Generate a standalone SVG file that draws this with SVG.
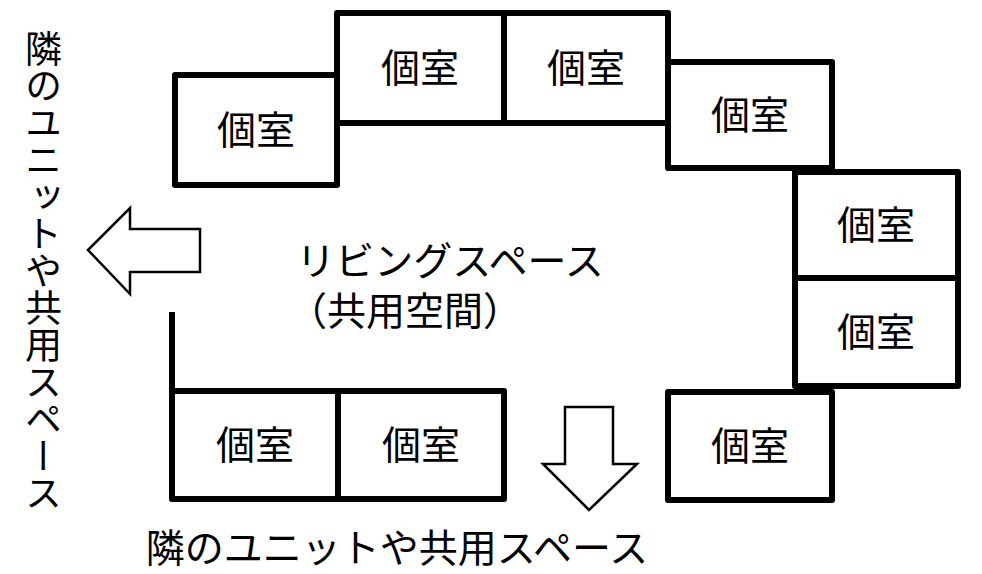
<svg xmlns="http://www.w3.org/2000/svg" width="982" height="574" viewBox="0 0 982 574">
<style>
.r{fill:#fff;stroke:#000;stroke-width:6;stroke-linejoin:round}
.t{font-family:"Liberation Sans","Noto Sans CJK JP",sans-serif;font-size:39px;fill:#000}
.a{fill:#fff;stroke:#000;stroke-width:2.5}
</style>
<rect width="982" height="574" fill="#fff"/>
<g id="rooms">
<g id="r1"><rect class="r" x="175" y="75" width="162" height="110"/><text class="t" x="256" y="144" text-anchor="middle">個室</text></g>
<g id="r2"><rect class="r" x="337" y="13" width="167" height="110"/><text class="t" x="420" y="82" text-anchor="middle">個室</text></g>
<g id="r3"><rect class="r" x="504" y="13" width="164" height="110"/><text class="t" x="586" y="82" text-anchor="middle">個室</text></g>
<g id="r4"><rect class="r" x="668" y="62" width="164" height="106"/><text class="t" x="750" y="129" text-anchor="middle">個室</text></g>
<g id="r5"><rect class="r" x="795" y="172" width="163" height="106"/><text class="t" x="876" y="239" text-anchor="middle">個室</text></g>
<g id="r6"><rect class="r" x="795" y="278" width="163" height="108"/><text class="t" x="876" y="346" text-anchor="middle">個室</text></g>
<g id="r7"><rect class="r" x="668" y="392" width="164" height="108"/><text class="t" x="750" y="460" text-anchor="middle">個室</text></g>
<g id="r8"><rect class="r" x="172" y="391" width="166" height="108"/><text class="t" x="255" y="459" text-anchor="middle">個室</text></g>
<g id="r9"><rect class="r" x="338" y="391" width="166" height="108"/><text class="t" x="421" y="459" text-anchor="middle">個室</text></g>
</g>
<g id="connectors">
<line x1="172" y1="312" x2="172" y2="391" stroke="#000" stroke-width="6"/>
<polygon class="a" points="88,250 130,208 130,229 200,229 200,272 130,272 130,294"/>
<polygon class="a" points="589,510 543,464 565,464 565,407 613,407 613,464 637,464"/>
</g>
<g id="labels">
<text class="t" x="450" y="275" text-anchor="middle" font-size="38">リビングスペース</text>
<text class="t" x="405" y="325" text-anchor="middle" font-size="38">（共用空間）</text>
<text class="t" x="397" y="562" text-anchor="middle">隣のユニットや共用スペース</text>
<text class="t" x="40" y="30" style="writing-mode:vertical-rl;font-size:37px" font-size="37">隣のユニットや共用スペース</text>
</g>
</svg>
